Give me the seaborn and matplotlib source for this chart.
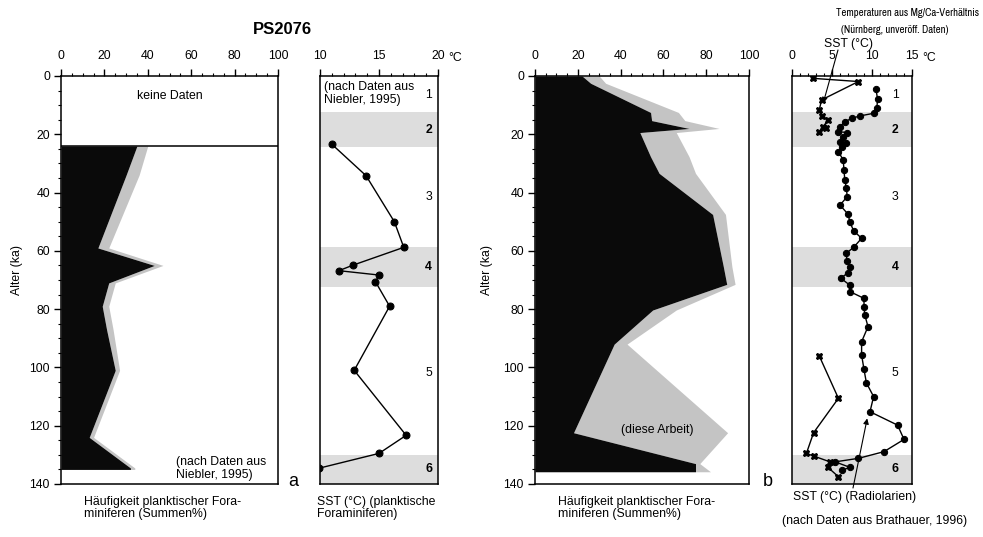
import matplotlib
matplotlib.use("Agg")
import matplotlib.pyplot as plt
from matplotlib.ticker import MultipleLocator
from matplotlib import font_manager
import seaborn as sns

sns.set_style("ticks")
plt.rcParams['font.family'] = ['Liberation Sans', 'DejaVu Sans']
plt.rcParams['axes.linewidth'] = 1.1
plt.rcParams['text.color'] = 'black'
plt.rcParams['xtick.color'] = 'black'
plt.rcParams['ytick.color'] = 'black'
plt.rcParams['axes.labelcolor'] = 'black'

# ---- PS2076 (a): planktic foraminifera, Niebler (1995) ----
age_a = [24, 34, 59, 65, 71, 79, 87, 101, 124, 134.5, 135]
black_a = [35, 30, 17, 43, 22, 19, 21, 25, 13, 32, 32]
total_a = [40, 36, 22, 47, 25, 22, 24, 27, 15, 34, 34]

sst_age_a = [23.4, 34.2, 50.0, 58.8, 64.9, 66.8, 68.3, 70.6, 79.0, 101.0, 123.3, 129.5, 134.6]
sst_a = [11.0, 13.9, 16.3, 17.1, 12.8, 11.6, 15.0, 14.7, 15.9, 12.9, 17.3, 15.0, 9.9]

# ---- PS2076 (b): this work ----
age_b = [0, 2.5, 12.5, 15.3, 18.0, 19.4, 27.7, 33.4, 47.5, 65.4, 71.5, 80.3, 92.0, 122.4, 133.0, 135.8]
black_b = [22, 26, 54, 54.5, 72, 49, 54, 58, 83, 88, 89.6, 55, 37, 18, 75, 75]
total_b = [30, 33, 67, 70, 86, 66, 72, 75, 89, 92, 93.5, 66, 43, 90, 77, 82]

# radiolarian SST (Brathauer, 1996)
rad_age = [4.6, 8.0, 11.1, 12.8, 13.7, 14.5, 15.7, 17.4, 19.1, 19.4, 20.8, 22.5, 23.1, 24.3,
           26.0, 28.8, 32.3, 35.7, 38.5, 41.4, 44.3, 47.4, 50.2, 53.1, 55.7, 58.8, 60.9,
           63.4, 65.6, 67.5, 69.4, 71.7, 74.0, 76.3, 79.2, 82.0, 86.0, 91.2, 95.7, 100.7,
           105.3, 110.0, 115.2, 119.8, 124.7, 128.9, 131.2, 132.4, 134.3, 135.3]
rad_sst = [10.5, 10.7, 10.6, 10.2, 8.5, 7.5, 6.6, 6.0, 5.8, 6.9, 6.4, 6.0, 6.8, 6.2,
           5.8, 6.4, 6.5, 6.6, 6.8, 6.9, 6.0, 7.0, 7.25, 7.7, 8.7, 7.7, 6.75,
           6.9, 7.25, 7.0, 6.1, 7.2, 7.25, 9.0, 9.0, 9.1, 9.5, 8.7, 8.7, 9.0,
           9.3, 10.2, 9.75, 13.2, 14.0, 11.5, 8.3, 5.4, 7.25, 6.2]

# Mg/Ca temperatures (Nürnberg, unpublished), two core sections
mg_age_1 = [0.8, 1.9, 8.2, 11.7, 13.7, 15.1, 17.4, 17.9, 19.1]
mg_1 = [2.6, 8.3, 3.7, 3.4, 3.7, 4.5, 3.9, 4.2, 3.4]
mg_age_2 = [96.0, 110.6, 122.4, 129.5, 130.4, 132.4, 134.3, 137.5]
mg_2 = [3.4, 5.8, 2.7, 1.8, 2.7, 4.75, 4.5, 5.8]

# marine isotope stages
glacial_top = [12.5, 58.7, 130.0]
glacial_bottom = [24.2, 72.5, 140.0]
stage_names = ["1", "2", "3", "4", "5", "6"]
stage_age = [6.5, 18.5, 41.5, 65.5, 102.0, 135.0]

W, H = 983, 537
fig = plt.figure(figsize=(W / 100, H / 100), dpi=100)


def rect(x0, x1, y0=76, y1=484):
    return [x0 / W, 1 - y1 / H, (x1 - x0) / W, (y1 - y0) / H]


ax1 = fig.add_axes(rect(61, 278))
ax2 = fig.add_axes(rect(320, 438))
ax3 = fig.add_axes(rect(535, 749))
ax4 = fig.add_axes(rect(792, 912))

BLACK = "#0a0a0a"
STIPPLE = "#c4c4c4"
BAND = "#dddddd"
FS = 8.8

# narrow face for the small header lines, if available
narrow = [f.name for f in font_manager.fontManager.ttflist if "Narrow" in f.name
          or "Condensed" in f.name]
HEAD_FAMILY = ([narrow[0]] if narrow else []) + ['Liberation Sans', 'DejaVu Sans']
HEAD_FS = 7.7 if narrow else 6.6


def style_axis(ax, xlim, major, minor, ylabels=True):
    ax.set_xlim(*xlim)
    ax.set_ylim(140, 0)
    ax.xaxis.tick_top()
    ax.xaxis.set_major_locator(MultipleLocator(major))
    ax.xaxis.set_minor_locator(MultipleLocator(minor))
    ax.tick_params(axis="x", which="major", length=5, width=1, pad=5, labelsize=FS)
    ax.tick_params(axis="x", which="minor", length=2.5, width=0.8)
    if ylabels:
        ax.yaxis.set_major_locator(MultipleLocator(20))
        ax.yaxis.set_minor_locator(MultipleLocator(5))
        ax.tick_params(axis="y", which="major", length=5, width=1, pad=3, labelsize=FS)
        ax.tick_params(axis="y", which="minor", length=2.5, width=0.8)
    else:
        ax.set_yticks([])
    for s in ax.spines.values():
        s.set_visible(True)
        s.set_color("black")
    ax.set_xlabel("")
    ax.set_ylabel("")


# ---- abundance panels ----
for ax, age, blk, tot in [(ax1, age_a, black_a, total_a), (ax3, age_b, black_b, total_b)]:
    ax.fill_betweenx(age, blk, tot, color=STIPPLE, lw=0)
    ax.fill_betweenx(age, 0, blk, color=BLACK, lw=0)
    style_axis(ax, (0, 100), 20, 5)

ax1.axhline(24, color="black", lw=1.1)
ax1.text(50, 7, "keine Daten", ha="center", va="center", fontsize=FS)
ax1.text(53, 134.6, "(nach Daten aus\nNiebler, 1995)", ha="left", va="center",
         fontsize=FS, linespacing=1.1)
ax3.text(57, 121.5, "(diese Arbeit)", ha="center", va="center", fontsize=FS)

# ---- SST panels ----
for ax in (ax2, ax4):
    for t, b in zip(glacial_top, glacial_bottom):
        ax.axhspan(t, b, color=BAND, lw=0, zorder=0)

sns.lineplot(x=sst_a, y=sst_age_a, sort=False, estimator=None, ax=ax2, color="black",
             lw=1, marker="o", markersize=5, markeredgecolor="black")
style_axis(ax2, (10, 20), 5, 1, ylabels=False)
ax2.text(10.3, 6, "(nach Daten aus\nNiebler, 1995)", ha="left", va="center",
         fontsize=FS, linespacing=1.1)

sns.lineplot(x=rad_sst, y=rad_age, sort=False, estimator=None, ax=ax4, color="black",
             lw=1, marker="o", markersize=4.5, markeredgecolor="black")
sns.lineplot(x=mg_1, y=mg_age_1, sort=False, estimator=None, ax=ax4, color="black",
             lw=1, marker="X", markersize=5, markeredgecolor="black")
sns.lineplot(x=mg_2, y=mg_age_2, sort=False, estimator=None, ax=ax4, color="black",
             lw=1, marker="X", markersize=5, markeredgecolor="black")
style_axis(ax4, (0, 15), 5, 1, ylabels=False)

for ax, xs in [(ax2, 19.2), (ax4, 12.9)]:
    for name, a in zip(stage_names, stage_age):
        ax.text(xs, a, name, ha="center", va="center", fontsize=FS,
                fontweight="bold" if name in "246" else "normal")


# ---- figure labels ----
def ftext(x, y, s, **kw):
    kw.setdefault("fontsize", FS)
    fig.text(x / W, 1 - y / H, s, **kw)


ftext(282, 30, "PS2076", ha="center", va="center", fontsize=12, fontweight="bold")
ftext(17, 270, "Alter (ka)", ha="center", va="center", rotation=90)
ftext(487, 270, "Alter (ka)", ha="center", va="center", rotation=90)
ftext(448, 58, "°C", ha="left", va="center")
ftext(922, 58, "°C", ha="left", va="center")
ftext(293, 482, "a", ha="center", va="center", fontsize=13)
ftext(768, 482, "b", ha="center", va="center", fontsize=13)
ftext(84, 508, "Häufigkeit planktischer Fora-\nminiferen (Summen%)", ha="left",
      va="center", linespacing=1.1)
ftext(558, 508, "Häufigkeit planktischer Fora-\nminiferen (Summen%)", ha="left",
      va="center", linespacing=1.1)
ftext(317, 508, "SST (°C) (planktische\nForaminiferen)", ha="left", va="center",
      linespacing=1.1)
ftext(855, 497, "SST (°C) (Radiolarien)", ha="center", va="center")
ftext(875, 521, "(nach Daten aus Brathauer, 1996)", ha="center", va="center")
ftext(979, 13, "Temperaturen aus Mg/Ca-Verhältnis", ha="right", va="center",
      fontsize=HEAD_FS, family=HEAD_FAMILY)
ftext(895, 30, "(Nürnberg, unveröff. Daten)", ha="center", va="center",
      fontsize=HEAD_FS, family=HEAD_FAMILY)
ftext(848, 44, "SST (°C)", ha="center", va="center", fontsize=FS)

arrow = dict(arrowstyle="-|>", lw=0.8, color="black", mutation_scale=8,
             shrinkA=0, shrinkB=0)
ax4.annotate("", xy=(3.9, 9.3), xytext=(838 / W, 1 - 50 / H),
             textcoords="figure fraction", arrowprops=arrow, annotation_clip=False)
ax4.annotate("", xy=(9.4, 117.5), xytext=(853 / W, 1 - 488 / H),
             textcoords="figure fraction", arrowprops=arrow, annotation_clip=False)

fig.savefig("out.png", dpi=100)
